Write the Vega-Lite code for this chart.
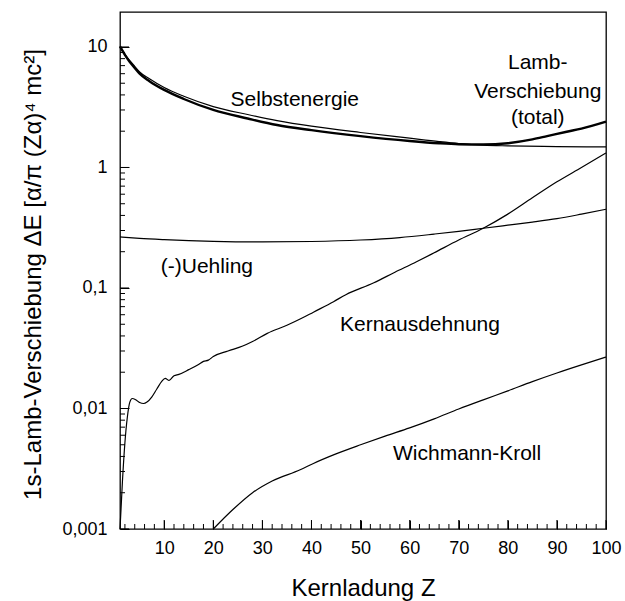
{
  "$schema": "https://vega.github.io/schema/vega-lite/v6.json",
  "width": 486,
  "height": 517,
  "autosize": {"type": "none"},
  "padding": {"left": 120, "top": 12, "right": 19, "bottom": 72},
  "background": "white",
  "config": {
    "view": {"stroke": "black", "strokeWidth": 1.3},
    "axis": {"grid": false, "domain": false}
  },
  "datasets": {
    "curves": [
      {"s": "Lamb", "Z": 1, "v": 10.1}, {"s": "Lamb", "Z": 2, "v": 8.6}, {"s": "Lamb", "Z": 3, "v": 7.5},
      {"s": "Lamb", "Z": 4, "v": 6.7}, {"s": "Lamb", "Z": 5, "v": 6.0}, {"s": "Lamb", "Z": 7, "v": 5.2},
      {"s": "Lamb", "Z": 10, "v": 4.4}, {"s": "Lamb", "Z": 14, "v": 3.7}, {"s": "Lamb", "Z": 20, "v": 3.0},
      {"s": "Lamb", "Z": 27, "v": 2.55}, {"s": "Lamb", "Z": 33, "v": 2.25}, {"s": "Lamb", "Z": 40, "v": 2.04},
      {"s": "Lamb", "Z": 50, "v": 1.82}, {"s": "Lamb", "Z": 60, "v": 1.66}, {"s": "Lamb", "Z": 66, "v": 1.59},
      {"s": "Lamb", "Z": 70, "v": 1.56}, {"s": "Lamb", "Z": 75, "v": 1.55}, {"s": "Lamb", "Z": 80, "v": 1.59},
      {"s": "Lamb", "Z": 85, "v": 1.71}, {"s": "Lamb", "Z": 88, "v": 1.82}, {"s": "Lamb", "Z": 92, "v": 1.98},
      {"s": "Lamb", "Z": 95, "v": 2.1}, {"s": "Lamb", "Z": 100, "v": 2.4},
      {"s": "Selbst", "Z": 1, "v": 10.1}, {"s": "Selbst", "Z": 2, "v": 8.7}, {"s": "Selbst", "Z": 3, "v": 7.7},
      {"s": "Selbst", "Z": 4, "v": 6.9}, {"s": "Selbst", "Z": 5, "v": 6.2}, {"s": "Selbst", "Z": 7, "v": 5.45},
      {"s": "Selbst", "Z": 10, "v": 4.6}, {"s": "Selbst", "Z": 14, "v": 3.9}, {"s": "Selbst", "Z": 20, "v": 3.2},
      {"s": "Selbst", "Z": 27, "v": 2.75}, {"s": "Selbst", "Z": 33, "v": 2.45}, {"s": "Selbst", "Z": 40, "v": 2.2},
      {"s": "Selbst", "Z": 50, "v": 1.95}, {"s": "Selbst", "Z": 60, "v": 1.75}, {"s": "Selbst", "Z": 66, "v": 1.64},
      {"s": "Selbst", "Z": 70, "v": 1.58}, {"s": "Selbst", "Z": 75, "v": 1.53}, {"s": "Selbst", "Z": 80, "v": 1.51},
      {"s": "Selbst", "Z": 90, "v": 1.49}, {"s": "Selbst", "Z": 100, "v": 1.48},
      {"s": "Uehling", "Z": 1, "v": 0.265}, {"s": "Uehling", "Z": 5, "v": 0.258}, {"s": "Uehling", "Z": 10, "v": 0.252},
      {"s": "Uehling", "Z": 20, "v": 0.244}, {"s": "Uehling", "Z": 30, "v": 0.241}, {"s": "Uehling", "Z": 40, "v": 0.243},
      {"s": "Uehling", "Z": 50, "v": 0.25}, {"s": "Uehling", "Z": 58, "v": 0.262}, {"s": "Uehling", "Z": 65, "v": 0.28},
      {"s": "Uehling", "Z": 70, "v": 0.295}, {"s": "Uehling", "Z": 75, "v": 0.313}, {"s": "Uehling", "Z": 80, "v": 0.332},
      {"s": "Uehling", "Z": 85, "v": 0.352}, {"s": "Uehling", "Z": 90, "v": 0.376}, {"s": "Uehling", "Z": 95, "v": 0.41},
      {"s": "Uehling", "Z": 100, "v": 0.45},
      {"s": "Kern", "Z": 1, "v": 0.001}, {"s": "Kern", "Z": 1.5, "v": 0.0025}, {"s": "Kern", "Z": 2, "v": 0.0052},
      {"s": "Kern", "Z": 2.5, "v": 0.0085}, {"s": "Kern", "Z": 3, "v": 0.0113}, {"s": "Kern", "Z": 3.5, "v": 0.0121},
      {"s": "Kern", "Z": 4.2, "v": 0.0118}, {"s": "Kern", "Z": 5, "v": 0.0112}, {"s": "Kern", "Z": 5.8, "v": 0.011},
      {"s": "Kern", "Z": 6.5, "v": 0.0113}, {"s": "Kern", "Z": 7.5, "v": 0.0125}, {"s": "Kern", "Z": 8.5, "v": 0.0145},
      {"s": "Kern", "Z": 9.5, "v": 0.0168}, {"s": "Kern", "Z": 10.2, "v": 0.0178}, {"s": "Kern", "Z": 11, "v": 0.0171},
      {"s": "Kern", "Z": 12, "v": 0.0187}, {"s": "Kern", "Z": 13, "v": 0.0192}, {"s": "Kern", "Z": 15, "v": 0.021},
      {"s": "Kern", "Z": 17, "v": 0.0232}, {"s": "Kern", "Z": 18, "v": 0.0246}, {"s": "Kern", "Z": 19, "v": 0.0252},
      {"s": "Kern", "Z": 20, "v": 0.027}, {"s": "Kern", "Z": 23, "v": 0.03}, {"s": "Kern", "Z": 26, "v": 0.033},
      {"s": "Kern", "Z": 28, "v": 0.036}, {"s": "Kern", "Z": 31, "v": 0.042}, {"s": "Kern", "Z": 35, "v": 0.049},
      {"s": "Kern", "Z": 38, "v": 0.056}, {"s": "Kern", "Z": 40.4, "v": 0.063}, {"s": "Kern", "Z": 44.5, "v": 0.077},
      {"s": "Kern", "Z": 47, "v": 0.088}, {"s": "Kern", "Z": 52.6, "v": 0.11}, {"s": "Kern", "Z": 57, "v": 0.135},
      {"s": "Kern", "Z": 61.4, "v": 0.165}, {"s": "Kern", "Z": 65, "v": 0.196}, {"s": "Kern", "Z": 70, "v": 0.25},
      {"s": "Kern", "Z": 75, "v": 0.313}, {"s": "Kern", "Z": 80, "v": 0.41}, {"s": "Kern", "Z": 85, "v": 0.56},
      {"s": "Kern", "Z": 90, "v": 0.76}, {"s": "Kern", "Z": 95, "v": 1.0}, {"s": "Kern", "Z": 100, "v": 1.32},
      {"s": "WK", "Z": 20, "v": 0.001}, {"s": "WK", "Z": 24, "v": 0.00145}, {"s": "WK", "Z": 28, "v": 0.002},
      {"s": "WK", "Z": 32, "v": 0.0025}, {"s": "WK", "Z": 37.7, "v": 0.0031}, {"s": "WK", "Z": 40.4, "v": 0.0035},
      {"s": "WK", "Z": 45, "v": 0.0042}, {"s": "WK", "Z": 50, "v": 0.005}, {"s": "WK", "Z": 55, "v": 0.0059},
      {"s": "WK", "Z": 60, "v": 0.0069}, {"s": "WK", "Z": 65, "v": 0.0082}, {"s": "WK", "Z": 70, "v": 0.0099},
      {"s": "WK", "Z": 75, "v": 0.0118}, {"s": "WK", "Z": 80, "v": 0.014}, {"s": "WK", "Z": 85, "v": 0.0167},
      {"s": "WK", "Z": 90, "v": 0.0197}, {"s": "WK", "Z": 95, "v": 0.023}, {"s": "WK", "Z": 100, "v": 0.0267}
    ],
    "labels": [
      {"Z": 36.6, "v": 3.61, "t": "Selbstenergie"},
      {"Z": 86.1, "v": 7.33, "t": "Lamb-"},
      {"Z": 86.1, "v": 4.22, "t": "Verschiebung"},
      {"Z": 86.1, "v": 2.56, "t": "(total)"},
      {"Z": 18.7, "v": 0.15, "t": "(-)Uehling"},
      {"Z": 62.1, "v": 0.0494, "t": "Kernausdehnung"},
      {"Z": 71.7, "v": 0.00422, "t": "Wichmann-Kroll"}
    ],
    "xticks": [
      {"Z": 2, "k": "minor"}, {"Z": 4, "k": "minor"}, {"Z": 6, "k": "minor"}, {"Z": 8, "k": "minor"}, {"Z": 10, "k": "major"},
      {"Z": 12, "k": "minor"}, {"Z": 14, "k": "minor"}, {"Z": 16, "k": "minor"}, {"Z": 18, "k": "minor"}, {"Z": 20, "k": "major"},
      {"Z": 22, "k": "minor"}, {"Z": 24, "k": "minor"}, {"Z": 26, "k": "minor"}, {"Z": 28, "k": "minor"}, {"Z": 30, "k": "major"},
      {"Z": 32, "k": "minor"}, {"Z": 34, "k": "minor"}, {"Z": 36, "k": "minor"}, {"Z": 38, "k": "minor"}, {"Z": 40, "k": "major"},
      {"Z": 42, "k": "minor"}, {"Z": 44, "k": "minor"}, {"Z": 46, "k": "minor"}, {"Z": 48, "k": "minor"}, {"Z": 50, "k": "major"},
      {"Z": 52, "k": "minor"}, {"Z": 54, "k": "minor"}, {"Z": 56, "k": "minor"}, {"Z": 58, "k": "minor"}, {"Z": 60, "k": "major"},
      {"Z": 62, "k": "minor"}, {"Z": 64, "k": "minor"}, {"Z": 66, "k": "minor"}, {"Z": 68, "k": "minor"}, {"Z": 70, "k": "major"},
      {"Z": 72, "k": "minor"}, {"Z": 74, "k": "minor"}, {"Z": 76, "k": "minor"}, {"Z": 78, "k": "minor"}, {"Z": 80, "k": "major"},
      {"Z": 82, "k": "minor"}, {"Z": 84, "k": "minor"}, {"Z": 86, "k": "minor"}, {"Z": 88, "k": "minor"}, {"Z": 90, "k": "major"},
      {"Z": 92, "k": "minor"}, {"Z": 94, "k": "minor"}, {"Z": 96, "k": "minor"}, {"Z": 98, "k": "minor"}, {"Z": 100, "k": "major"}
    ],
    "yticks": [
      {"v": 0.001, "k": "major"}, {"v": 0.002, "k": "minor"}, {"v": 0.003, "k": "minor"}, {"v": 0.004, "k": "minor"}, {"v": 0.005, "k": "minor"},
      {"v": 0.006, "k": "minor"}, {"v": 0.007, "k": "minor"}, {"v": 0.008, "k": "minor"}, {"v": 0.009, "k": "minor"},
      {"v": 0.01, "k": "major"}, {"v": 0.02, "k": "minor"}, {"v": 0.03, "k": "minor"}, {"v": 0.04, "k": "minor"}, {"v": 0.05, "k": "minor"},
      {"v": 0.06, "k": "minor"}, {"v": 0.07, "k": "minor"}, {"v": 0.08, "k": "minor"}, {"v": 0.09, "k": "minor"},
      {"v": 0.1, "k": "major"}, {"v": 0.2, "k": "minor"}, {"v": 0.3, "k": "minor"}, {"v": 0.4, "k": "minor"}, {"v": 0.5, "k": "minor"},
      {"v": 0.6, "k": "minor"}, {"v": 0.7, "k": "minor"}, {"v": 0.8, "k": "minor"}, {"v": 0.9, "k": "minor"},
      {"v": 1, "k": "major"}, {"v": 2, "k": "minor"}, {"v": 3, "k": "minor"}, {"v": 4, "k": "minor"}, {"v": 5, "k": "minor"},
      {"v": 6, "k": "minor"}, {"v": 7, "k": "minor"}, {"v": 8, "k": "minor"}, {"v": 9, "k": "minor"},
      {"v": 10, "k": "major"}
    ]
  },
  "resolve": {"scale": {"x": "independent", "y": "independent"}, "axis": {"x": "independent", "y": "independent"}},
  "layer": [
    {
      "data": {"name": "curves"},
      "transform": [{"filter": "datum.s === 'Lamb'"}],
      "mark": {"type": "line", "interpolate": "monotone", "color": "black", "strokeWidth": 2.4},
      "encoding": {
        "x": {
          "field": "Z", "type": "quantitative",
          "scale": {"domain": [1, 100], "nice": false, "zero": false},
          "axis": {
            "orient": "bottom",
            "values": [10, 20, 30, 40, 50, 60, 70, 80, 90, 100],
            "title": "Kernladung Z",
            "titleFont": "Liberation Sans", "titleColor": "black",
            "titleFontSize": 24, "titleFontWeight": "normal",
            "titleBaseline": "alphabetic", "titleY": 66,
            "labelFont": "Liberation Sans", "labelColor": "black",
            "labelFontSize": 18, "labelFlush": false, "labelOverlap": false,
            "labelPadding": 19,
            "tickSize": -9, "tickColor": "black"
          }
        },
        "y": {
          "field": "v", "type": "quantitative",
          "scale": {"type": "log", "domain": [0.001, 19.5], "nice": false},
          "axis": {
            "orient": "left",
            "values": [0.001, 0.01, 0.1, 1, 10],
            "title": "1s-Lamb-Verschiebung ΔE [α/π (Zα)⁴ mc²]",
            "titleFont": "Liberation Sans", "titleColor": "black",
            "titleFontSize": 24, "titleFontWeight": "normal",
            "titleBaseline": "alphabetic", "titleX": -80, "titleY": 262, "titleAngle": -90,
            "labelFont": "Liberation Sans", "labelColor": "black",
            "labelFontSize": 18, "labelOverlap": false, "labelPadding": 22,
            "labelExpr": "replace(format(datum.value, '~g'), '.', ',')",
            "tickSize": -9, "tickColor": "black"
          }
        }
      }
    },
    {
      "data": {"name": "curves"},
      "transform": [{"filter": "datum.s !== 'Lamb'"}],
      "mark": {"type": "line", "interpolate": "monotone", "color": "black", "strokeWidth": 1.2},
      "encoding": {
        "x": {"field": "Z", "type": "quantitative", "scale": {"domain": [1, 100], "nice": false, "zero": false}, "axis": null},
        "y": {"field": "v", "type": "quantitative", "scale": {"type": "log", "domain": [0.001, 19.5], "nice": false}, "axis": null},
        "detail": {"field": "s", "type": "nominal"}
      }
    },
    {
      "data": {"name": "labels"},
      "mark": {"type": "text", "font": "Liberation Sans", "fontSize": 21, "align": "center", "baseline": "middle", "color": "black"},
      "encoding": {
        "x": {"field": "Z", "type": "quantitative", "scale": {"domain": [1, 100], "nice": false, "zero": false}, "axis": null},
        "y": {"field": "v", "type": "quantitative", "scale": {"type": "log", "domain": [0.001, 19.5], "nice": false}, "axis": null},
        "text": {"field": "t", "type": "nominal"}
      }
    },
    {
      "data": {"name": "xticks"},
      "mark": {"type": "tick", "orient": "vertical", "clip": true, "color": "black", "thickness": 1, "opacity": 1},
      "encoding": {
        "x": {"field": "Z", "type": "quantitative", "scale": {"domain": [1, 100], "nice": false, "zero": false}, "axis": null},
        "y": {"datum": 0.001, "type": "quantitative", "scale": {"type": "log", "domain": [0.001, 19.5], "nice": false}, "axis": null},
        "size": {"field": "k", "type": "nominal", "scale": {"domain": ["major", "minor"], "range": [18, 10]}, "legend": null}
      }
    },
    {
      "data": {"name": "yticks"},
      "mark": {"type": "tick", "orient": "horizontal", "clip": true, "color": "black", "thickness": 1, "opacity": 1},
      "encoding": {
        "x": {"datum": 1, "type": "quantitative", "scale": {"domain": [1, 100], "nice": false, "zero": false}, "axis": null},
        "y": {"field": "v", "type": "quantitative", "scale": {"type": "log", "domain": [0.001, 19.5], "nice": false}, "axis": null},
        "size": {"field": "k", "type": "nominal", "scale": {"domain": ["major", "minor"], "range": [18, 10]}, "legend": null}
      }
    }
  ]
}
